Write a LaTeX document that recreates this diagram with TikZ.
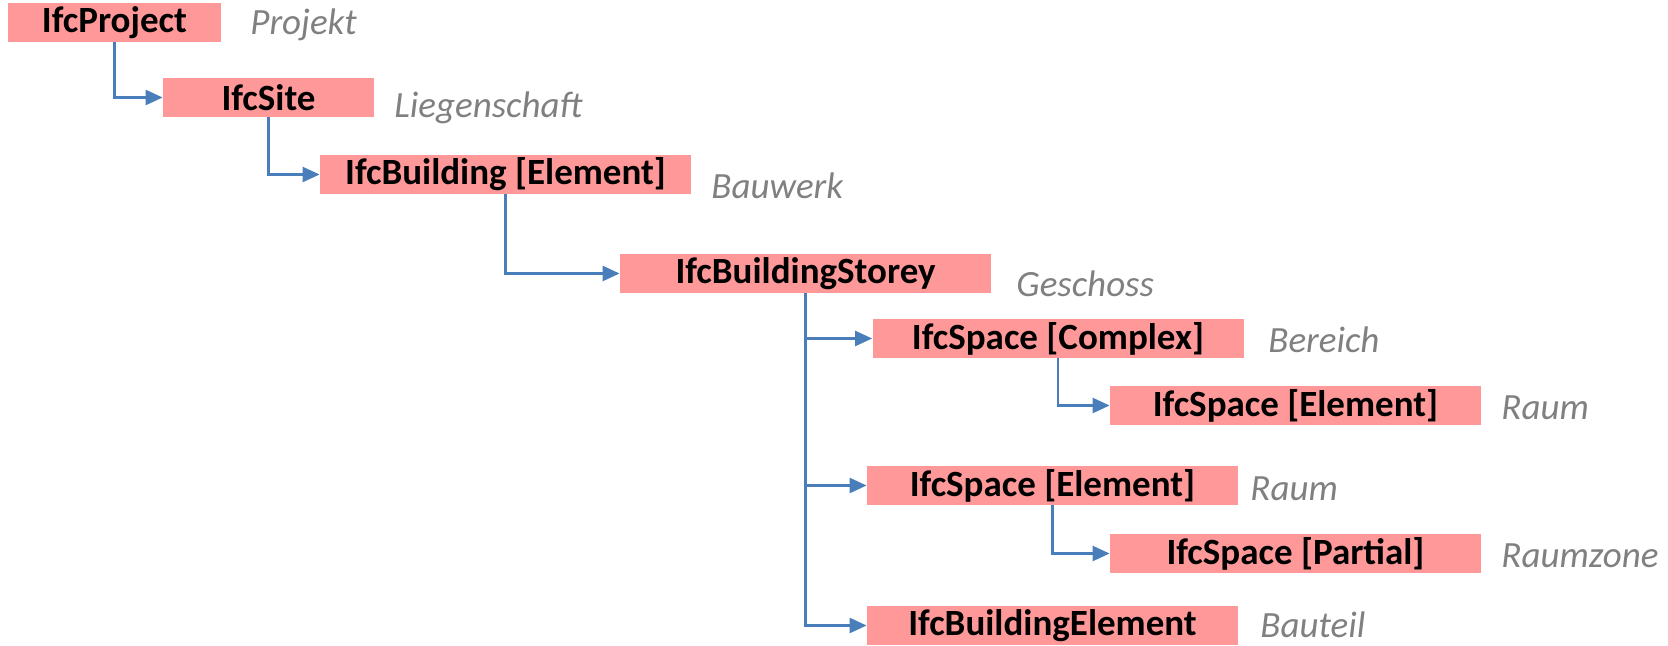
\documentclass[tikz,border=0pt]{standalone}
\usepackage{fontspec}
\setmainfont{Carlito}
\usetikzlibrary{arrows.meta}
\definecolor{boxfill}{HTML}{FF9999}
\definecolor{linkblue}{HTML}{4A7EBB}
\definecolor{labelgray}{HTML}{808080}
\tikzset{
  ifcbox/.style={rectangle, fill=boxfill, inner sep=0pt, minimum height=19.5pt,
    font=\fontsize{18.5}{22}\selectfont\bfseries, text=black},
  wide/.style={minimum width=185.5pt},
  narrow/.style={minimum width=106pt},
  germ/.style={anchor=base west, inner sep=0pt, text=labelgray,
    font=\fontsize{18.5}{22}\selectfont\itshape},
  link/.style={draw=linkblue, line width=1.25pt,
    -{Triangle[length=8.5pt,width=7.5pt]}}
}
\begin{document}
\begin{tikzpicture}[x=0.5pt,y=-0.5pt]
\useasboundingbox (0,0) rectangle (1668,646);
% boxes
\node[ifcbox,minimum width=106.5pt] (proj) at (114.5,22.5) {IfcProject};
\node[ifcbox,minimum width=105.5pt] (site) at (268.5,97.5) {IfcSite};
\node[ifcbox,wide] (bldg) at (505.5,174.5) {IfcBuilding [Element]};
\node[ifcbox,wide] (storey) at (805.5,273.5) {IfcBuildingStorey};
\node[ifcbox,wide] (cplx) at (1058,338.5) {IfcSpace [Complex]};
\node[ifcbox,wide] (elemA) at (1295.5,405.5) {IfcSpace [Element]};
\node[ifcbox,wide] (elemB) at (1052.5,485.5) {IfcSpace [Element]};
\node[ifcbox,wide] (part) at (1295.5,553.5) {IfcSpace [Partial]};
\node[ifcbox,wide] (belem) at (1052.5,625.5) {IfcBuildingElement};
% german labels
\node[germ] (lproj) at (250,35) {Projekt};
\node[germ] (lsite) at (394,118) {Liegenschaft};
\node[germ] (lbldg) at (711,199) {Bauwerk};
\node[germ] (lstorey) at (1016,297) {Geschoss};
\node[germ] (lcplx) at (1268,352) {Bereich};
\node[germ] (lelemA) at (1501,419) {Raum};
\node[germ] (lelemB) at (1250,500) {Raum};
\node[germ] (lpart) at (1501,567) {Raumzone};
\node[germ] (lbelem) at (1260,637) {Bauteil};
% connectors
\draw[link] (proj.south) |- (site.west);
\draw[link] (site.south) |- (bldg.west);
\draw[link] (bldg.south) |- (storey.west);
\draw[link] (storey.south) |- (cplx.west);
\draw[link] (storey.south) |- (elemB.west);
\draw[link] (storey.south) |- (belem.west);
\draw[link] (cplx.south) |- (elemA.west);
\draw[link] (elemB.south) |- (part.west);
\end{tikzpicture}
\end{document}
